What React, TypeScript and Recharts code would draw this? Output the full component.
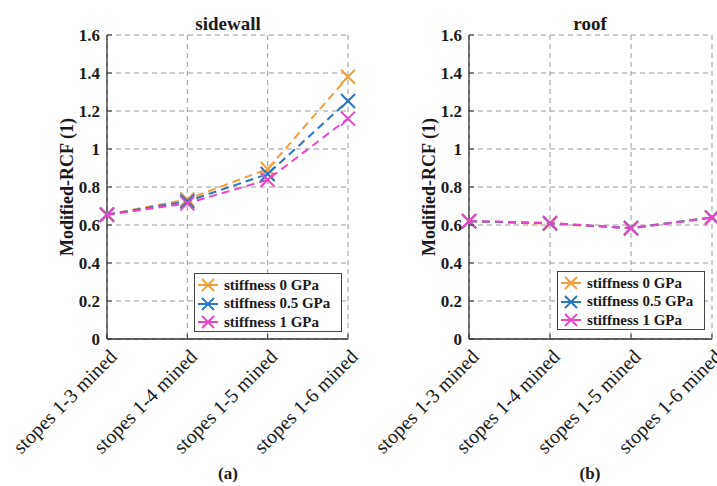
import React from "react";
import { LineChart, Line, XAxis, YAxis, CartesianGrid } from "recharts";

const categories = ["stopes 1-3 mined", "stopes 1-4 mined", "stopes 1-5 mined", "stopes 1-6 mined"];

const sidewallStiff0 = [0.655, 0.735, 0.895, 1.38];
const sidewallStiff05 = [0.655, 0.725, 0.868, 1.253];
const sidewallStiff1 = [0.653, 0.714, 0.838, 1.16];

const roofStiff0 = [0.62, 0.606, 0.585, 0.64];
const roofStiff05 = [0.62, 0.609, 0.584, 0.64];
const roofStiff1 = [0.621, 0.611, 0.582, 0.638];

const seriesKeys = ["s0", "s05", "s1"];
const seriesNames = ["stiffness 0 GPa", "stiffness 0.5 GPa", "stiffness 1 GPa"];
const seriesColors = ["#f2a03c", "#2a76c2", "#ef43c8"];
const yTicks = [0, 0.2, 0.4, 0.6, 0.8, 1, 1.2, 1.4, 1.6];

const FONT = '"Liberation Serif", "Times New Roman", serif';

function buildRows(a: number[], b: number[], c: number[]) {
  return categories.map((name, i) => ({ name, s0: a[i], s05: b[i], s1: c[i] }));
}

function XMark({ cx, cy, color, r = 7 }: { cx: number; cy: number; color: string; r?: number }) {
  return (
    <g>
      <line x1={cx - r} y1={cy - r} x2={cx + r} y2={cy + r} stroke={color} strokeWidth={2} />
      <line x1={cx - r} y1={cy + r} x2={cx + r} y2={cy - r} stroke={color} strokeWidth={2} />
    </g>
  );
}

// bottom ticks: short inward mark plus a label slanted at 45 degrees
function StopeTick(props: any) {
  const { x, y, payload } = props;
  const tx = x + 11;
  const ty = y + 19;
  return (
    <g>
      <line x1={x} y1={y} x2={x} y2={y - 5} stroke="#333" strokeWidth={1} />
      <text
        x={tx}
        y={ty}
        transform={`rotate(-45, ${tx}, ${ty})`}
        textAnchor="end"
        fontFamily={FONT}
        fontSize={20}
        fill="#1a1a1a"
      >
        {payload.value}
      </text>
    </g>
  );
}

// left ticks: inward mark at the axis plus the bold value
function ValueTick(props: any) {
  const { x, y, payload } = props;
  const ax = x + 7;
  return (
    <g>
      <line x1={ax} y1={y} x2={ax + 5} y2={y} stroke="#333" strokeWidth={1} />
      <text x={x} y={y} dy="0.35em" textAnchor="end" fontFamily={FONT} fontWeight="bold" fontSize={17} fill="#1a1a1a">
        {payload.value}
      </text>
    </g>
  );
}

function LegendBox({ left, top }: { left: number; top: number }) {
  return (
    <div
      style={{
        position: "absolute",
        left,
        top,
        width: 148,
        height: 59,
        border: "1.5px solid #444",
        background: "#fff",
        fontFamily: FONT,
        fontWeight: "bold",
        fontSize: 15,
        color: "#1a1a1a",
        paddingTop: 2,
        boxSizing: "border-box",
      }}
    >
      {seriesNames.map((n, i) => (
        <div key={n} style={{ display: "flex", alignItems: "center", height: 18.5 }}>
          <svg width={29} height={18} style={{ flex: "none" }}>
            <line x1={3} y1={9} x2={23} y2={9} stroke={seriesColors[i]} strokeWidth={2} />
            <XMark cx={13} cy={9} color={seriesColors[i]} r={6} />
          </svg>
          <span style={{ whiteSpace: "nowrap" }}>{n}</span>
        </div>
      ))}
    </div>
  );
}

function Panel({ rows, width, right }: { rows: any[]; width: number; right: number }) {
  return (
    <LineChart width={width} height={486} data={rows} margin={{ top: 35, right, left: 0, bottom: 0 }}>
      <CartesianGrid stroke="#9a9a9a" strokeDasharray="5 4" strokeWidth={1} />
      <XAxis
        dataKey="name"
        scale="point"
        padding={{ left: 0, right: 0 }}
        height={147}
        interval={0}
        tickSize={0}
        tickMargin={0}
        tickLine={false}
        tick={<StopeTick />}
        axisLine={{ stroke: "#333", strokeWidth: 1.3 }}
      />
      <YAxis
        domain={[0, 1.6]}
        ticks={yTicks}
        width={107}
        tickSize={0}
        tickMargin={7}
        tickLine={false}
        axisLine={{ stroke: "#333", strokeWidth: 1.3 }}
        tick={<ValueTick />}
        label={{
          value: "Modified-RCF (1)",
          angle: -90,
          position: "center",
          dx: 13,
          style: { fontFamily: FONT, fontWeight: "bold", fontSize: 18, fill: "#1a1a1a" },
        }}
      />
      {seriesKeys.map((k, i) => (
        <Line
          key={k}
          dataKey={k}
          type="linear"
          stroke={seriesColors[i]}
          strokeWidth={2}
          strokeDasharray="8 5"
          isAnimationActive={false}
          dot={(p: any) => <XMark key={`${k}-${p.index}`} cx={p.cx} cy={p.cy} color={seriesColors[i]} />}
          activeDot={false}
        />
      ))}
    </LineChart>
  );
}

const titleStyle: React.CSSProperties = {
  position: "absolute",
  fontFamily: FONT,
  fontWeight: "bold",
  fontSize: 19,
  color: "#1a1a1a",
  transform: "translateX(-50%)",
  whiteSpace: "nowrap",
  lineHeight: "20px",
};

export default function App() {
  const sidewall = buildRows(sidewallStiff0, sidewallStiff05, sidewallStiff1);
  const roof = buildRows(roofStiff0, roofStiff05, roofStiff1);
  return (
    <div style={{ position: "absolute", left: 0, top: 0, width: 717, height: 486, background: "#fff", overflow: "hidden" }}>
      <div style={{ position: "absolute", left: 0, top: 0 }}>
        <Panel rows={sidewall} width={378} right={30} />
      </div>
      <div style={{ position: "absolute", left: 362, top: 0 }}>
        <Panel rows={roof} width={355} right={5} />
      </div>
      <div style={{ ...titleStyle, left: 228, top: 14 }}>sidewall</div>
      <div style={{ ...titleStyle, left: 590, top: 14 }}>roof</div>
      <div style={{ ...titleStyle, left: 228, top: 464, fontSize: 17 }}>(a)</div>
      <div style={{ ...titleStyle, left: 590, top: 464, fontSize: 17 }}>(b)</div>
      <LegendBox left={194} top={273} />
      <LegendBox left={557} top={271} />
    </div>
  );
}
